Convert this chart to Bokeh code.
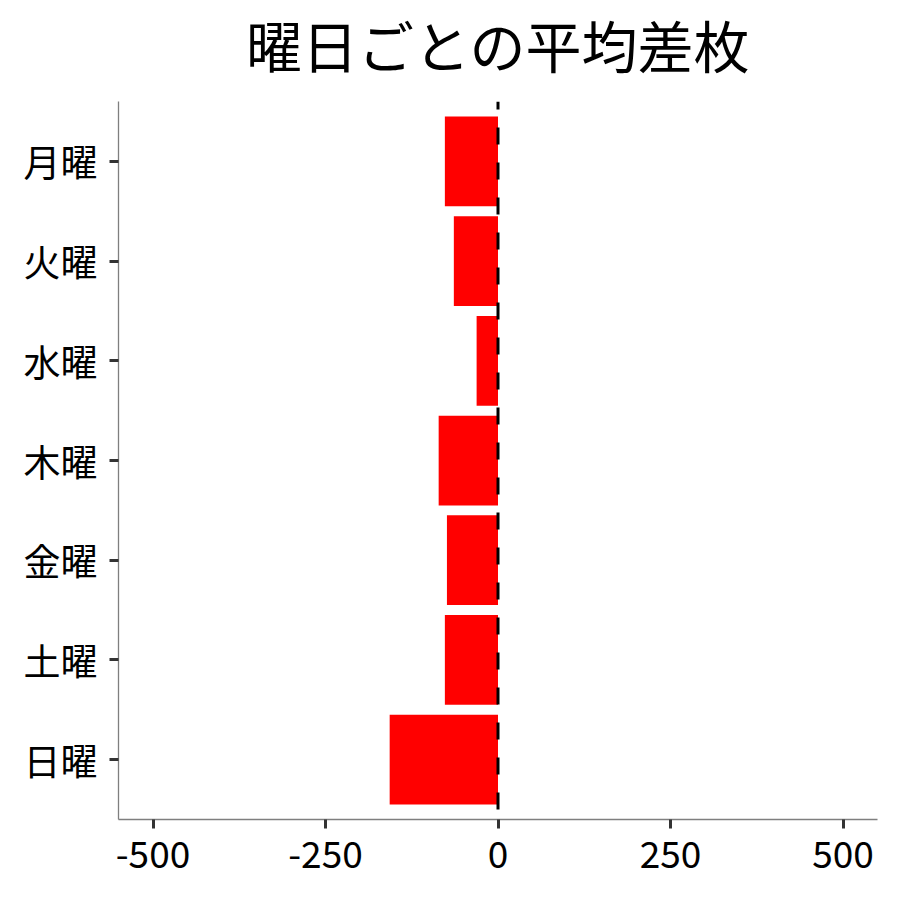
from bokeh.plotting import figure
from bokeh.models import FactorRange, Range1d, Span, FixedTicker, Title
from bokeh.embed import file_html
from bokeh.resources import INLINE

days = ["月曜", "火曜", "水曜", "木曜", "金曜", "土曜", "日曜"]
avg_diff = [-77, -64, -31, -86, -74, -77, -157]
x_ticks = [-500, -250, 0, 250, 500]
x_tick_labels = ["-500", "-250", "0", "250", "500"]
title_text = "曜日ごとの平均差枚"

FONT = "Noto Sans CJK JP"

p = figure(
    width=900, height=900,
    y_range=FactorRange(factors=list(reversed(days)), range_padding=0.1, range_padding_units="absolute"),
    x_range=Range1d(-550, 550),
    output_backend="svg", toolbar_location=None,
    min_border_left=118, min_border_right=23, min_border_top=101, min_border_bottom=81,
)
p.outline_line_color = None
p.background_fill_color = "white"
p.border_fill_color = "white"
p.xgrid.visible = False
p.ygrid.visible = False

p.hbar(y=days, right=avg_diff, left=0, height=0.9, fill_color="#FF0000", line_color=None)

zero = Span(location=0, dimension="height", line_color="black", line_width=3,
            line_dash="17 18", line_dash_offset=9)
p.add_layout(zero)

# blank spacer between the frame and the title
spacer = Title(text=" ", text_font_size="10px", standoff=5)
p.add_layout(spacer, "above")

p.title.text = title_text
p.title.align = "center"
p.title.text_font = FONT
p.title.text_font_size = "56px"
p.title.text_font_style = "normal"
p.title.text_color = "black"
p.title.standoff = 0

for ax in (p.xaxis[0], p.yaxis[0]):
    ax.axis_line_color = "#7f7f7f"
    ax.axis_line_width = 1.3
    ax.major_tick_line_color = "#333333"
    ax.major_tick_line_width = 3
    ax.major_tick_out = 9
    ax.major_tick_in = 0
    ax.minor_tick_line_color = None
    ax.major_label_text_font = FONT
    ax.major_label_text_font_size = "37px"
    ax.major_label_text_color = "black"
    ax.major_label_standoff = 12

p.xaxis[0].ticker = FixedTicker(ticks=x_ticks)
p.xaxis[0].major_label_overrides = dict(zip(x_ticks, x_tick_labels))

open("out.html", "w").write(file_html(p, INLINE))
